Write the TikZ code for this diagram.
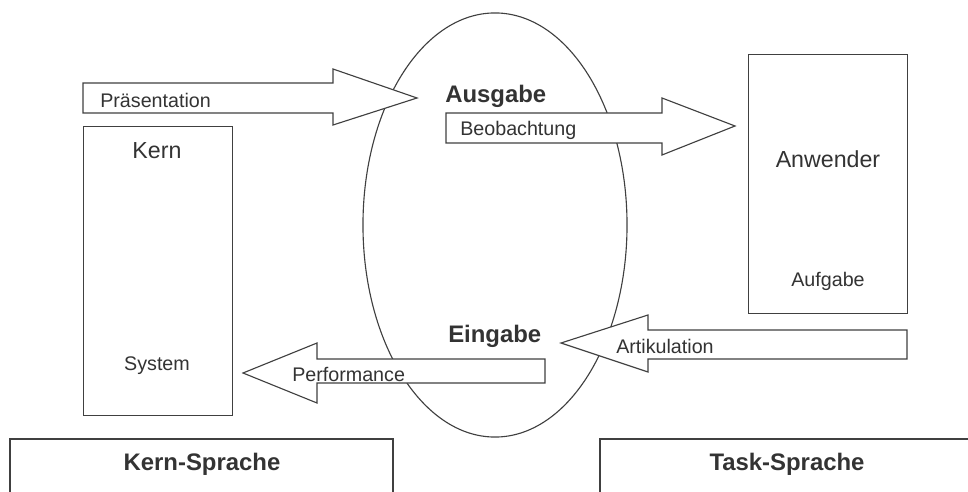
\documentclass[tikz,border=0pt]{standalone}
\usepackage{fontspec}
\setmainfont{Liberation Sans}
\usetikzlibrary{shapes.geometric, positioning}

\definecolor{strich}{HTML}{404040}
\definecolor{schrift}{HTML}{333333}

\tikzset{
  kasten/.style={draw=strich, line width=0.8pt, fill=white},
  pfeil/.style={draw=strich, line width=0.8pt, fill=white, line join=miter},
  klein/.style={text=schrift, inner sep=0pt, font=\fontsize{14pt}{16pt}\selectfont},
  gross/.style={text=schrift, inner sep=0pt, font=\fontsize{16.5pt}{19pt}\selectfont},
  fett/.style={text=schrift, inner sep=0pt, font=\bfseries\fontsize{17pt}{20pt}\selectfont}
}

\begin{document}
\begin{tikzpicture}[x=0.025cm, y=-0.025cm]
  \useasboundingbox (0,0) rectangle (968,492);

  % Ein-/Ausgabe
  \node[draw=strich, line width=0.8pt, ellipse, inner sep=0pt,
        minimum width=6.6cm, minimum height=10.6cm] (io) at (495,225) {};

  % System und Anwender
  \node[kasten, anchor=north west, minimum width=3.725cm, minimum height=7.225cm] (kern) at (83,126) {};
  \node[kasten, anchor=north west, minimum width=3.975cm, minimum height=6.475cm] (anwender) at (748,54) {};

  % Blockpfeile
  \draw[pfeil] (83,83) -- (333,83) -- (333,69) -- (417,98) -- (333,125) -- (333,113) -- (83,113) -- cycle;
  \draw[pfeil] (446,113) -- (662,113) -- (662,98) -- (735,126) -- (662,155) -- (662,143) -- (446,143) -- cycle;
  \draw[pfeil] (907,330) -- (648,330) -- (648,315) -- (561,343) -- (648,372) -- (648,359) -- (907,359) -- cycle;
  \draw[pfeil] (545,359) -- (317,359) -- (317,343) -- (243,373) -- (317,403) -- (317,383) -- (545,383) -- cycle;

  % Sprachen
  \draw[strich, line width=0.8pt] (10,492) |- (393,439) -- (393,492);
  \draw[strich, line width=0.8pt] (600,492) |- (968,439);

  % Beschriftungen
  \node[gross, anchor=base] (kernlbl) at (157,159) {Kern};
  \node[klein, anchor=base] (systemlbl) at (157,370) {System};
  \node[gross, anchor=base] (anwlbl) at (828,168) {Anwender};
  \node[klein, anchor=base] (aufgabelbl) at (828,287) {Aufgabe};
  \node[fett, anchor=base west] (ausgabe) at (445,103) {Ausgabe};
  \node[fett, anchor=base west] (eingabe) at (448,343) {Eingabe};
  \node[klein, anchor=base west] (praes) at (100,108) {Präsentation};
  \node[klein, anchor=base west] (beob) at (460,136) {Beobachtung};
  \node[klein, anchor=base west] (artik) at (616,353) {Artikulation};
  \node[klein, anchor=base west] (perf) at (292,381) {Performance};
  \node[fett, anchor=base] (kernspr) at (202,470) {Kern-Sprache};
  \node[fett, anchor=base] (taskspr) at (787,470) {Task-Sprache};
\end{tikzpicture}
\end{document}
